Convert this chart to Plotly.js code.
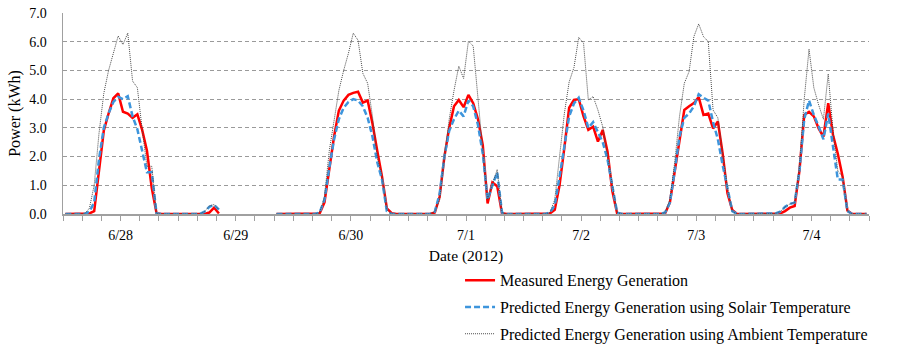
<!DOCTYPE html>
<html>
<head>
<meta charset="utf-8">
<script src="https://cdn.plot.ly/plotly-3.0.1.min.js"></script>
<style>
  html, body { margin: 0; padding: 0; background: #fff; }
  #chart { width: 900px; height: 350px; }
</style>
</head>
<body>
<div id="chart"></div>
<script>
// Date labels (placed at noon of each day); hourly data, 6/28 00:00 .. 7/4 23:00
const dayLabels = ["6/28", "6/29", "6/30", "7/1", "7/2", "7/3", "7/4"];

// Measured Energy Generation (kWh), one row of 24 hourly values per day
const measured = [
  0,0,0,0,0,0.02,0.1,1.6,2.9,3.5,4.03,4.2,3.56,3.5,3.35,3.47,2.93,2.2,0.9,0.03,0,0,0,0,
  0,0,0,0,0,0,0.05,0.22,0.02,null,null,null,null,null,null,null,null,null,null,null,0,0,0,0,
  0,0,0,0,0,0.02,0.4,1.6,2.7,3.6,3.95,4.15,4.22,4.26,3.88,3.95,3.15,2.2,1.3,0.2,0.03,0,0,0,
  0,0,0,0,0,0.05,0.6,2.0,3.0,3.75,3.97,3.72,4.15,3.86,3.3,2.4,0.37,1.1,0.97,0.03,0,0,0,0,
  0,0,0,0,0,0.02,0.15,1.0,2.3,3.7,3.97,4.0,3.4,2.93,3.04,2.52,2.93,2.17,0.8,0.02,0,0,0,0,
  0,0,0,0,0,0.02,0.4,1.5,2.6,3.62,3.75,3.86,4.07,3.45,3.5,2.98,3.22,2.1,0.72,0.14,0,0,0,0,
  0,0,0,0,0,0.02,0.1,0.22,0.28,1.5,3.45,3.56,3.4,2.98,2.69,3.86,2.75,2.1,1.3,0.12,0,0,0,0
];

// Predicted Energy Generation using Solair Temperature
const solair = [
  0,0,0,0,0,0.08,0.4,1.9,3.0,3.5,3.9,4.08,4.0,4.1,3.4,2.95,2.2,1.45,1.45,0.02,0,0,0,0,
  0,0,0,0,0,0.08,0.25,0.32,0.15,null,null,null,null,null,null,null,null,null,null,null,0,0,0,0,
  0,0,0,0,0,0.05,0.5,1.6,2.6,3.3,3.7,3.9,4.0,3.95,3.75,3.35,2.7,1.8,1.2,0.1,0,0,0,0,
  0,0,0,0,0,0.08,0.7,2.0,2.9,3.3,3.6,3.4,3.95,3.75,3.1,2.1,0.5,1.0,1.45,0.05,0,0,0,0,
  0,0,0,0,0,0.05,0.3,1.3,2.4,3.4,3.85,4.05,3.6,3.0,3.2,2.85,2.5,1.9,1.0,0.05,0,0,0,0,
  0,0,0,0,0,0.05,0.4,1.5,2.7,3.35,3.5,3.75,4.17,4.05,3.95,3.2,2.6,1.7,0.95,0.1,0,0,0,0,
  0,0,0,0,0.02,0.08,0.25,0.35,0.4,1.5,3.3,3.95,3.45,3.05,2.6,3.5,2.3,1.2,1.2,0.1,0,0,0,0
];

// Predicted Energy Generation using Ambient Temperature
const ambient = [
  0,0,0,0,0,0.2,1.0,2.8,4.2,5.0,5.6,6.2,5.9,6.3,4.63,4.4,2.95,1.66,1.66,0.02,0,0,0,0,
  0,0,0,0,0,0.08,0.28,0.33,0.15,null,null,null,null,null,null,null,null,null,null,null,0,0,0,0,
  0,0,0,0,0,0.05,0.6,2.2,3.3,4.3,5.0,5.6,6.3,6.05,4.9,4.55,3.4,2.0,1.3,0.15,0,0,0,0,
  0,0,0,0,0,0.08,0.5,2.0,3.3,4.3,5.15,4.72,6.02,5.85,3.9,2.2,0.5,1.0,1.55,0.05,0,0,0,0,
  0,0,0,0,0,0.05,0.5,2.0,3.5,4.6,5.1,6.15,5.95,3.97,4.09,3.62,3.04,2.0,1.0,0.05,0,0,0,0,
  0,0,0,0,0,0.05,0.5,1.8,3.4,4.55,4.96,6.18,6.62,6.18,6.0,3.62,3.35,2.1,0.9,0.1,0,0,0,0,
  0,0,0,0,0.02,0.08,0.25,0.35,0.4,1.6,4.0,5.74,4.4,3.8,3.3,4.88,2.9,1.5,1.3,0.1,0,0,0,0
];

const seriesNames = [
  "Measured Energy Generation",
  "Predicted Energy Generation using Solair Temperature",
  "Predicted Energy Generation using Ambient Temperature"
];

// hour index (category centre), in hours since 6/28 00:00
const hours = measured.map((_, i) => i + 0.5);
const labelPos = dayLabels.map((_, d) => d * 24 + 12);

const serif = "Liberation Serif";

const traces = [
  { x: hours, y: measured, name: seriesNames[0], type: "scatter", mode: "lines",
    line: { color: "#ff0000", width: 2.5 }, legendgroup: "a", connectgaps: false },
  { x: hours, y: solair, name: seriesNames[1], type: "scatter", mode: "lines",
    line: { color: "#3d95dc", width: 2.5, dash: "6px,3px" }, legendgroup: "b", connectgaps: false },
  { x: hours, y: ambient, name: seriesNames[2], type: "scatter", mode: "lines",
    line: { color: "#4a4a4a", width: 1, dash: "1px,1px" }, legendgroup: "c", connectgaps: false }
];

const layout = {
  width: 900, height: 350,
  margin: { l: 63, r: 31, t: 13, b: 136, autoexpand: false },
  paper_bgcolor: "#ffffff", plot_bgcolor: "#ffffff",
  font: { family: serif, size: 14, color: "#000" },
  showlegend: true,
  legend: {
    x: 0.4926, xanchor: "left", y: -0.245, yanchor: "top",
    font: { family: serif, size: 16, color: "#000" },
    tracegroupgap: 3, itemwidth: 30, bgcolor: "rgba(0,0,0,0)"
  },
  xaxis: {
    range: [0, 168], showgrid: false, zeroline: false,
    showline: true, linecolor: "#a0a0a0", linewidth: 1.5,
    tickmode: "array", tickvals: labelPos, ticktext: dayLabels,
    ticks: "outside", ticklen: 5, tickcolor: "#a0a0a0", tickwidth: 1,
    minor: { tick0: 0, dtick: 4, ticks: "outside", ticklen: 5, tickcolor: "#a0a0a0", tickwidth: 1, showgrid: false },
    tickfont: { family: serif, size: 14, color: "#000" },
    ticklabelstandoff: 3,
    title: { text: "Date (2012)", font: { family: serif, size: 15.5, color: "#000" }, standoff: 8 },
    fixedrange: true
  },
  yaxis: {
    range: [0, 7], dtick: 1, tick0: 0, tickformat: ".1f",
    showgrid: true, gridcolor: "#9a9a9a", griddash: "4px,3px", gridwidth: 1,
    zeroline: false, showline: true, linecolor: "#a0a0a0", linewidth: 1.5,
    ticks: "", ticklabelstandoff: 12,
    tickfont: { family: serif, size: 14, color: "#000" },
    title: { text: "Power (kWh)", font: { family: serif, size: 16, color: "#000" }, standoff: 4 },
    fixedrange: true
  }
};

Plotly.newPlot("chart", traces, layout, { displayModeBar: false, staticPlot: true });
</script>
</body>
</html>
